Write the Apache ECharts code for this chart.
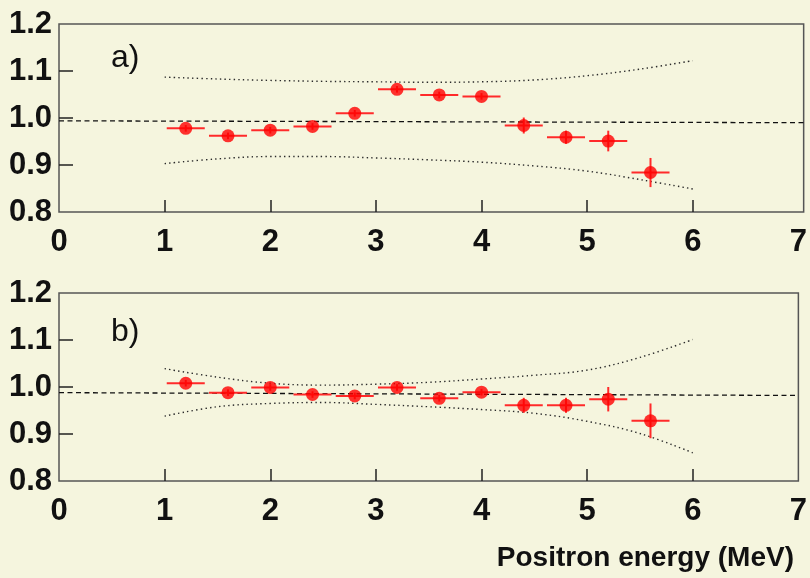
<!DOCTYPE html>
<html>
<head>
<meta charset="utf-8">
<script src="https://cdn.jsdelivr.net/npm/echarts@6/dist/echarts.min.js"></script>
<style>
html,body{margin:0;padding:0;background:#f5f5de;}
#chart{width:810px;height:578px;}
</style>
</head>
<body>
<div id="chart"></div>
<script>
// ---- data ----
const xTickLabels = [0, 1, 2, 3, 4, 5, 6, 7];
const xTickMarks = [1, 2, 3, 4, 5, 6];
const yTickLabels = [0.8, 0.9, 1.0, 1.1, 1.2];
const yTickMarks = [0.9, 1.0, 1.1];

// panel a)
const xA = [1.2, 1.6, 2.0, 2.4, 2.8, 3.2, 3.6, 4.0, 4.4, 4.8, 5.2, 5.6];
const yA = [0.978, 0.962, 0.974, 0.982, 1.010, 1.061, 1.049, 1.046, 0.984, 0.959, 0.951, 0.884];
const xErrA = [0.18, 0.18, 0.18, 0.18, 0.18, 0.18, 0.18, 0.18, 0.18, 0.18, 0.18, 0.18];
const yErrA = [0.007, 0.007, 0.007, 0.007, 0.007, 0.007, 0.007, 0.007, 0.017, 0.014, 0.022, 0.031];
const bandXA = [1, 1.5, 2, 2.5, 3, 3.5, 4, 4.5, 5, 5.5, 6];
const bandUpA = [1.087, 1.083, 1.080, 1.078, 1.077, 1.076, 1.077, 1.081, 1.090, 1.104, 1.122];
const bandLoA = [0.903, 0.913, 0.918, 0.918, 0.915, 0.911, 0.906, 0.898, 0.887, 0.869, 0.849];
const refXA = [0, 7.05];
const refYA = [0.994, 0.990];

// panel b)
const xB = [1.2, 1.6, 2.0, 2.4, 2.8, 3.2, 3.6, 4.0, 4.4, 4.8, 5.2, 5.6];
const yB = [1.008, 0.988, 0.999, 0.984, 0.981, 0.999, 0.976, 0.989, 0.961, 0.961, 0.974, 0.928];
const xErrB = [0.18, 0.18, 0.18, 0.18, 0.18, 0.18, 0.18, 0.18, 0.18, 0.18, 0.18, 0.18];
const yErrB = [0.007, 0.007, 0.007, 0.007, 0.007, 0.007, 0.007, 0.007, 0.016, 0.016, 0.026, 0.037];
const bandXB = [1, 1.5, 2, 2.5, 3, 3.5, 4, 4.5, 5, 5.5, 6];
const bandUpB = [1.039, 1.021, 1.008, 1.004, 1.006, 1.010, 1.017, 1.025, 1.036, 1.063, 1.101];
const bandLoB = [0.938, 0.958, 0.965, 0.967, 0.963, 0.958, 0.952, 0.944, 0.927, 0.901, 0.860];
const refXB = [0, 7];
const refYB = [0.988, 0.982];

// ---- chart ----
const FONT = '"Liberation Sans", Arial, sans-serif';
const chart = echarts.init(document.getElementById('chart'), null, {renderer: 'canvas'});

function xAxisCfg(gi, max) {
  return {
    type: 'value', gridIndex: gi, min: 0, max: max,
    axisLine: {show: false},
    splitLine: {show: false},
    axisTick: {show: true, inside: true, length: 12, customValues: xTickMarks,
      lineStyle: {color: '#222', width: 1.5}},
    axisLabel: {customValues: xTickLabels, margin: 15, color: '#111',
      fontFamily: FONT, fontWeight: 'bold', fontSize: 31}
  };
}
function yAxisCfg(gi) {
  return {
    type: 'value', gridIndex: gi, min: 0.8, max: 1.2,
    axisLine: {show: false},
    splitLine: {show: false},
    axisTick: {show: true, inside: true, length: 14, customValues: yTickMarks,
      lineStyle: {color: '#222', width: 1.5}},
    axisLabel: {customValues: yTickLabels, margin: 7, color: '#111',
      fontFamily: FONT, fontWeight: 'bold', fontSize: 31,
      formatter: v => Number(v).toFixed(1)}
  };
}
function errRender(params, api) {
  const x = api.value(0), y = api.value(1), xe = api.value(2), ye = api.value(3);
  const l = api.coord([x - xe, y]), r = api.coord([x + xe, y]);
  const t = api.coord([x, y + ye]), b = api.coord([x, y - ye]);
  const st = {stroke: '#ff2a2a', lineWidth: 2};
  return {type: 'group', children: [
    {type: 'line', shape: {x1: l[0], y1: l[1], x2: r[0], y2: r[1]}, style: st},
    {type: 'line', shape: {x1: t[0], y1: t[1], x2: b[0], y2: b[1]}, style: st}
  ]};
}
function panelSeries(idx, xs, ys, xe, ye, bx, bu, bl, rx, ry) {
  const pts = xs.map((x, i) => [x, ys[i], xe[i], ye[i]]);
  const dotted = {color: '#2a2a2a', width: 1.4, type: [1.4, 3.2]};
  return [
    {type: 'line', xAxisIndex: idx, yAxisIndex: idx, data: rx.map((x, i) => [x, ry[i]]),
      symbol: 'none', silent: true, lineStyle: {color: '#111', width: 1.3, type: [5, 3.5]}, z: 1},
    {type: 'line', xAxisIndex: idx, yAxisIndex: idx, data: bx.map((x, i) => [x, bu[i]]),
      symbol: 'none', smooth: 0.4, silent: true, lineStyle: dotted, z: 1},
    {type: 'line', xAxisIndex: idx, yAxisIndex: idx, data: bx.map((x, i) => [x, bl[i]]),
      symbol: 'none', smooth: 0.4, silent: true, lineStyle: dotted, z: 1},
    {type: 'custom', xAxisIndex: idx, yAxisIndex: idx, data: pts, renderItem: errRender, z: 2},
    {type: 'scatter', xAxisIndex: idx, yAxisIndex: idx, data: pts.map(p => [p[0], p[1]]),
      symbol: 'circle', symbolSize: 13, itemStyle: {color: '#ff0000'}, z: 3}
  ];
}

chart.setOption({
  backgroundColor: '#f5f5de',
  animation: false,
  title: [
    {text: 'a)', left: 111, top: 42, padding: 0,
      textStyle: {fontFamily: FONT, fontWeight: 'normal', fontSize: 32, color: '#111'}},
    {text: 'b)', left: 111, top: 316, padding: 0,
      textStyle: {fontFamily: FONT, fontWeight: 'normal', fontSize: 32, color: '#111'}},
    {text: 'Positron energy (MeV)', right: 16, top: 544, padding: 0,
      textStyle: {fontFamily: FONT, fontWeight: 'bold', fontSize: 28, color: '#111'}}
  ],
  grid: [
    {left: 59, top: 24, width: 746, height: 188, show: true, borderColor: '#555', borderWidth: 1.5, backgroundColor: 'transparent'},
    {left: 59, top: 293, width: 746, height: 188, show: true, borderColor: '#555', borderWidth: 1.5, backgroundColor: 'transparent'}
  ],
  xAxis: [xAxisCfg(0, 7.05), xAxisCfg(1, 7)],
  yAxis: [yAxisCfg(0), yAxisCfg(1)],
  series: [].concat(
    panelSeries(0, xA, yA, xErrA, yErrA, bandXA, bandUpA, bandLoA, refXA, refYA),
    panelSeries(1, xB, yB, xErrB, yErrB, bandXB, bandUpB, bandLoB, refXB, refYB)
  )
});
</script>
</body>
</html>
